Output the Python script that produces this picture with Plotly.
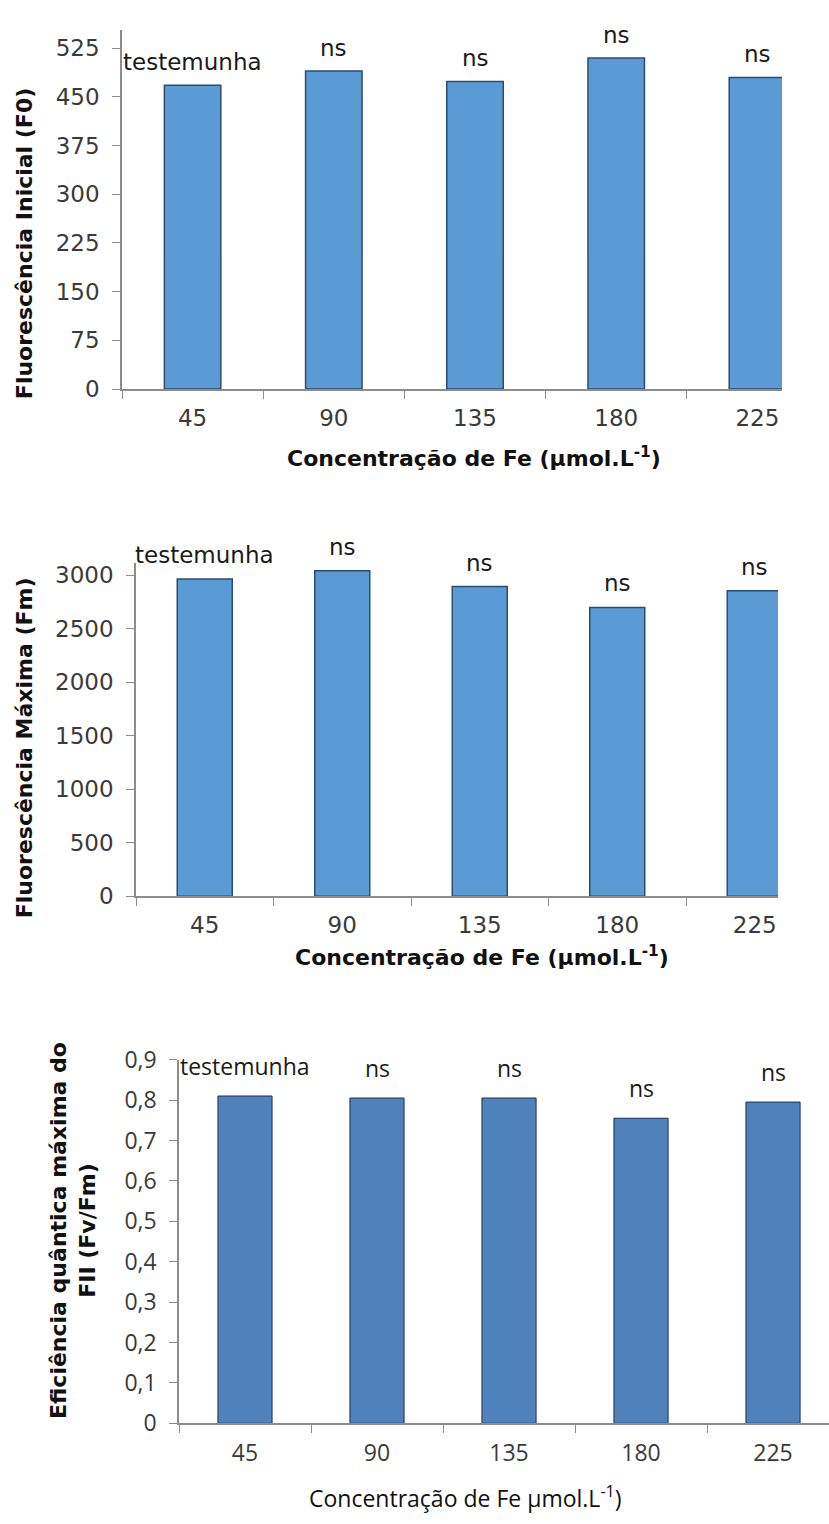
import plotly.graph_objects as go

# Fe concentration levels (µmol/L) used as categories
conc = ["45", "90", "135", "180", "225"]

# Initial fluorescence F0
f0 = [468, 490, 474, 510, 480]
# Maximum fluorescence Fm
fm = [2963, 3040, 2893, 2698, 2854]
# Maximum quantum efficiency of PSII (Fv/Fm)
fvfm = [0.81, 0.805, 0.805, 0.755, 0.795]

# significance labels above each bar
sig = ["testemunha", "ns", "ns", "ns", "ns"]

f0_ticks = [0, 75, 150, 225, 300, 375, 450, 525]
fm_ticks = [0, 500, 1000, 1500, 2000, 2500, 3000]
fvfm_ticks = [0, 0.1, 0.2, 0.3, 0.4, 0.5, 0.6, 0.7, 0.8, 0.9]
fvfm_ticktext = ["0", "0,1", "0,2", "0,3", "0,4", "0,5", "0,6", "0,7", "0,8", "0,9"]

W, H = 829, 1524


def px(xp):
    return xp / W


def py(yp):
    return 1 - yp / H


SANS = "DejaVu Sans"
SANS2 = "Open Sans"
TICK_COLOR = "#3a3a3a"
AXIS_COLOR = "#8c8c8c"
BLUE1 = "#5b9bd5"
EDGE1 = "#2b4c6e"
BLUE3 = "#4f81bd"
EDGE3 = "#1f2f4f"

fig = go.Figure()

panels = [
    dict(ax="", y=f0, color=BLUE1, edge=EDGE1, width=0.40, edgew=1.5),
    dict(ax="2", y=fm, color=BLUE1, edge=EDGE1, width=0.40, edgew=1.5),
    dict(ax="3", y=fvfm, color=BLUE3, edge=EDGE3, width=0.41, edgew=1.0),
]

for p in panels:
    fig.add_trace(go.Bar(
        x=conc, y=p["y"], xaxis="x" + p["ax"], yaxis="y" + p["ax"],
        width=p["width"],
        marker=dict(color=p["color"], line=dict(color=p["edge"], width=p["edgew"])),
        showlegend=False, hoverinfo="skip",
    ))

common_x = dict(
    type="category", showline=True, linecolor=AXIS_COLOR, linewidth=1.5,
    ticks="outside", tickson="boundaries", ticklen=8, tickcolor=AXIS_COLOR,
    showgrid=False, zeroline=False, ticklabelstandoff=8,
)
common_y = dict(
    showline=True, linecolor=AXIS_COLOR, linewidth=1.5,
    ticks="outside", ticklen=8, tickcolor=AXIS_COLOR,
    showgrid=False, zeroline=False, ticklabelstandoff=8,
)

fig.update_layout(
    width=W, height=H,
    margin=dict(l=0, r=0, t=0, b=0),
    paper_bgcolor="white", plot_bgcolor="white",
    # panel 1: F0
    xaxis=dict(common_x, domain=[px(122), px(782)], range=[-0.5, 4.174],
               anchor="y", tickfont=dict(family=SANS, size=23, color=TICK_COLOR)),
    yaxis=dict(common_y, domain=[py(380), py(13)], range=[0, 553.6],
               anchor="x", tickvals=f0_ticks,
               tickfont=dict(family=SANS, size=23, color=TICK_COLOR)),
    # panel 2: Fm
    xaxis2=dict(common_x, domain=[px(136), px(778)], range=[-0.5, 4.169],
                anchor="y2", tickfont=dict(family=SANS, size=23, color=TICK_COLOR)),
    yaxis2=dict(common_y, domain=[py(898), py(558)], range=[0, 3110],
                anchor="x2", tickvals=fm_ticks,
                tickfont=dict(family=SANS, size=23, color=TICK_COLOR)),
    # panel 3: Fv/Fm
    xaxis3=dict(common_x, domain=[px(179), 1.0], range=[-0.5, 4.424],
                anchor="y3", tickfont=dict(family=SANS2, size=23, color=TICK_COLOR)),
    yaxis3=dict(common_y, domain=[py(1436.5), py(1065)], range=[0, 0.9],
                anchor="x3", tickvals=fvfm_ticks, ticktext=fvfm_ticktext,
                tickfont=dict(family=SANS2, size=23, color=TICK_COLOR)),
)

annotations = []

# significance labels over the bars (category axes take the serial index)
for p, fam, shift in [(panels[0], SANS, 8), (panels[1], SANS, 9), (panels[2], SANS2, 12)]:
    for i, (val, txt) in enumerate(zip(p["y"], sig)):
        annotations.append(dict(
            x=i, y=val, xref="x" + p["ax"], yref="y" + p["ax"],
            text=txt, showarrow=False, yanchor="bottom", yshift=shift,
            font=dict(family=fam, size=23, color="#1a1a1a"),
        ))

# axis titles
title_font = dict(family=SANS, size=22, color="#111111", weight="bold")
annotations += [
    dict(x=px(24), y=py(232), xref="paper", yref="paper", showarrow=False,
         text="Fluorescência Inicial (F0)", textangle=-90, font=title_font,
         xanchor="center", yanchor="middle"),
    dict(x=px(474), y=py(449), xref="paper", yref="paper", showarrow=False,
         text="Concentração de Fe (µmol.L<sup>-1</sup>)", font=title_font,
         xanchor="center", yanchor="middle"),
    dict(x=px(24), y=py(747), xref="paper", yref="paper", showarrow=False,
         text="Fluorescência Máxima (Fm)", textangle=-90, font=title_font,
         xanchor="center", yanchor="middle"),
    dict(x=px(482), y=py(959), xref="paper", yref="paper", showarrow=False,
         text="Concentração de Fe (µmol.L<sup>-1</sup>)", font=title_font,
         xanchor="center", yanchor="middle"),
    dict(x=px(73), y=py(1240), xref="paper", yref="paper", showarrow=False,
         text="Eficiência quântica máxima do<br>FII (Fv/Fm)", textangle=-90,
         font=title_font, xanchor="center", yanchor="middle", align="center"),
    dict(x=px(465), y=py(1512), xref="paper", yref="paper", showarrow=False,
         text="Concentração de Fe µmol.L<sup>-1</sup>)",
         font=dict(family=SANS2, size=23, color="#111111"),
         xanchor="center", yanchor="middle"),
]

fig.update_layout(annotations=annotations)

fig.write_html("out.html")
